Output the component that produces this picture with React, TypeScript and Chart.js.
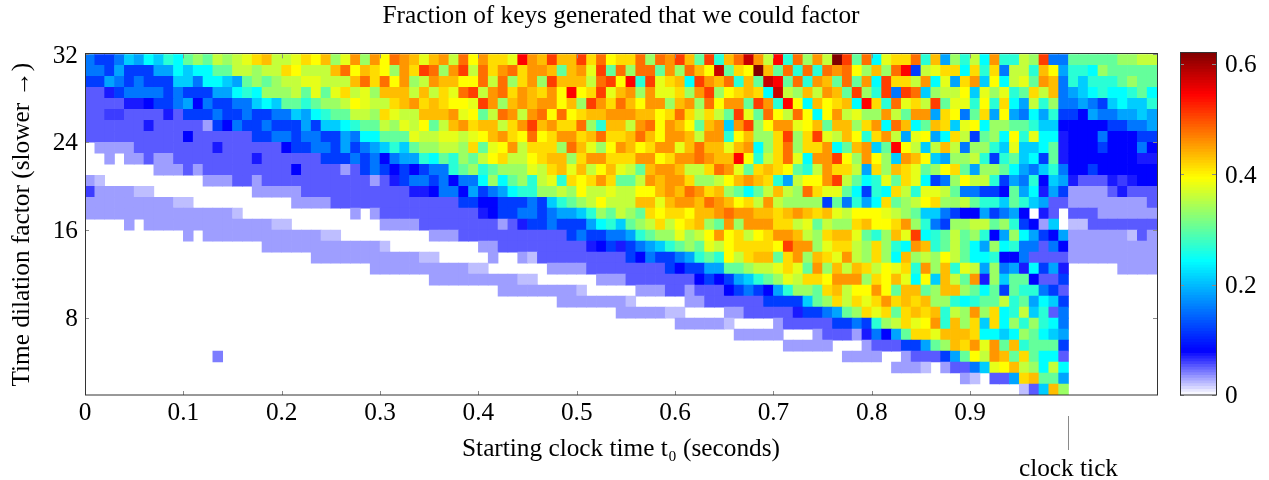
import React, { useEffect, useRef } from "react";
import { Chart, registerables } from "chart.js";

Chart.register(...registerables);

const FONT = "'Liberation Serif', 'Times New Roman', serif";
const FONT_SIZE = 25.3;
const TEXT_COLOR = "#000";
const TITLE = "Fraction of keys generated that we could factor";
const X_TITLE = "Starting clock time t\u2080 (seconds)";
const Y_TITLE = "Time dilation factor (slower \u2192)";
const ANNOTATION = "clock tick";
const CLOCK_TICK = 1.0;

const X_TICKS = [0, 0.1, 0.2, 0.3, 0.4, 0.5, 0.6, 0.7, 0.8, 0.9];
const Y_TICKS = [8, 16, 24, 32];
const BAR_TICKS = [0, 0.2, 0.4, 0.6];
const X_MAX = 1.09;
const BAR_MAX = 0.62;
const CELL_STEP = 0.01;

const LEVEL_KEYS = ".abcdefghijklmnopqrstuvwxyz";
const LEVEL_VALUES = [
  0, 0.02, 0.03, 0.051, 0.06, 0.071, 0.079, 0.117, 0.155, 0.184, 0.21, 0.242, 0.266,
  0.301, 0.334, 0.358, 0.378, 0.393, 0.414, 0.432, 0.455, 0.479, 0.508, 0.544, 0.577, 0.62, 0.04,
];

const COLOR_STOPS: [number, number, number, number][] = [
  [0, 255, 255, 255],
  [0.0786, 0, 0, 255],
  [0.242, 0, 255, 255],
  [0.393, 255, 255, 0],
  [0.544, 255, 0, 0],
  [0.62, 128, 0, 0],
];

const D28 = "............................";
const D27 = "...........................";
const D9 = ".........";

// One string per row, from y = 31..32 at the top to y = 1..2 at the bottom; one letter per 0.01 s.
const ROWS = [
  "hgghjikjlkmnmonoprsooprqsnpt" + "ntqutspstouqtrrpwtsvssvruqrr" + "unutvsmvlsuxtowluntoyvmukpr" + "rulsinloktllonvhh" + "mmmmmnnoo",
  "hhgigggiikjkkmmoonoorqooosuq" + "srqntrvuntvourturttsmstpvmun" + "uumtnusqxmrqysmululutuqnsnu" + "wgoprrkrlrhoolsqi" + "llknmmmmm",
  "ggihghgggjjhkkjimnmnooppooos" + "uruqtnotssqquounrtnvsssouvqw" + "lvprskvtsulsmxwmultsmumtkvr" + "rotkpirtjqkopmtsh" + "ljlllmnmm",
  "cceghhhhghgggiiklknnnompmpro" + "pnsssosorpuvoturtsrtqwqrvpst" + "ntpprntvnqrsrkxonsotsmvnlvh" + "vujnooqjpnplmrosh" + "ijklkklmk",
  "cccceefgghifhgghhjkjmmlmnnoq" + "poorstrsrqqpvtnststtqsnvtrus" + "qttnstnuqttmvtlwqksqrskwrlu" + "provmpplqlrkiolnh" + "hihgjkjjl",
  "ccddccccecggghgghgghhjiklmmo" + "onrpoossstpqmoutotuquqrssttt" + "ssqruroromvpmuqouqkqtopnnto" + "mttirqhmriqihkilg" + "gfihhiiji",
  "ccccccecccccbgfhgghgggigjjkl" + "mmonpoqmostrssortvstrrunlsso" + "tuqtsqmstjtvnqttpqsmssnrtku" + "skmsrjpqknnmmljjf" + "ffffgghhi",
  "ccccccccccfccccccgghhghhggih" + "kkmmmpooppopqstrquqrttrsurrs" + "usqttsottlqsnnrvnrvposqlrto" + "ipqikrogmnkqlpkke" + "fffhfffgg",
  ".bbbbccccccccecccccc" + "fgghhgig" + "hijljmnnoonrmpqtorrrnuspnqts" + "qrttpsusspstknrunrrtkmstjmw" + "qojosohnnljpjjkme" + "fffgfffhf",
  "..b.bbcbbcccccccceccccccgggh" + "ghfhiilkmlnmoqrooqrssnrttrrr" + "ttqrttutsswqlorupkttvqntqnj" + "tsqjinnolglmjkgme" + "fffffffee",
  ".......bbbcbcccccccccfccccbc" + "ghgfgfghhlmnlmnnnporspsoqspo" + "msttsoorutpmrsrqmlotrroirns" + "rpmnqrminnmkihjlh" + "ffgffffff",
  "ba..........bbbccbcccccccccc" + "cbceghhghfhhknkmnloplrqrtrmm" + "otsttrnnoqstsrlioqqtvomklpm" + "rpkghnqoolgihlfji" + "ecccedeff",
  "dbbbbaa..........bbbbbcccccc" + "ccccceefhhfighikllnnonqoopoo" + "qqstsutrsnmkmosonurppmkglkr" + "olppomhhggfmikeig" + "bbbbceccc",
  "bbbbbbbbbaa..........bbbbccc" + "ccccccccccggffggghgjlmnoqooo" + "sspsttsutsqrotonnnngmhlikrm" + "noqrnnomlljmljicc" + "bbbbbbbbc",
  "bbbbbbbbbbbbbbba...........b" + ".bccccccccccefgghhghiijlnmon" + "mrqrrqsstuttssrstsrspoqqqpo" + "nmjjhgffighif.ec." + "cccbbbbbb",
  "....b.bbbbbbbbbbbbbaa......." + "..bbbbccccccccbcegghgggikljm" + "noroqrsnmtntttrropmonnrsqqr" + "tnlhgnnoomnlgfbj." + "aaccccccc",
  "..........b.bbbbbbbbbbbbaa.." + ".......bbbcccccccccccghgghhi" + "lmnnpnoqtqroqrttsonrsspmlns" + "pvklmomnlfinkigfi" + "bbbbbbacb",
  "..................bbbbbbbbbb" + "bba.........bbcccccccccefgeg" + "hijlmnmpoqrrrrqvttnprronrnl" + "ktslmomkinklhhchf" + "bbbbbbbbb",
  ".......................bbbbb" + "bbbbbbaa.....b..bacccccccccg" + "fhgghilmlqorssmrtnsrptonrnk" + "snonqomkklffhcccc" + "bbbbbbbbb",
  D28 + ".bbbbbbbbbbaa......bbbbccccc" + "cccgfggiimmnooprpmtnsosroqp" + "rltnslpoinhiekgie" + ".....bbbb",
  D28 + ".......bbbbbbbbbaa......bbbc" + "ccccccfgfgijlmnporrqtttnrqs" + "pkqjsomtenjmmfccg" + D9,
  D28 + "..............bbbbbbbba....." + "bbbccbcccfghgfilnnmrsoqqtqm" + "ssmnssnmkmgmllhgc" + D9,
  D28 + "....................bbbbbbba" + ".....bbccccccggggjmnrorprtr" + "srsnnlklmmolmikjg" + D9,
  D28 + "..........................bb" + "bbbaa....bbccccceggh" + "imnrprm" + "rsrslontnrklojlch" + D9,
  D28 + D28 + "....bbbbba....bcccccgghglno" + "rpqtlsnrjrknlnlkh" + D9,
  D28 + D28 + "..........bbbbb...bcccbehfi" + "mrrpsssrkkjknmkji" + D9,
  D28 + D28 + "...............bbbbb...bccc" + "ggimnsrtptmslmmmg" + D9,
  ".............z.............." + D28 + ".....................bbbb.." + "bcccgimqotsmrmkkc" + D9,
  D28 + D28 + "..........................b" + "bba.bcchjpqsonkok" + D9,
  D28 + D28 + D27 + "......ba.ccirsmmi" + D9,
  D28 + D28 + D27 + "............acjsn" + D9,
];

function colorFor(v: number): string {
  for (let i = 1; i < COLOR_STOPS.length; i++) {
    const a = COLOR_STOPS[i - 1];
    const b = COLOR_STOPS[i];
    if (v <= b[0]) {
      const t = (v - a[0]) / (b[0] - a[0]);
      const ch = (k: number) => Math.round(a[k] + (b[k] - a[k]) * t);
      return `rgb(${ch(1)},${ch(2)},${ch(3)})`;
    }
  }
  return "rgb(128,0,0)";
}

const cells: { x: number; y: [number, number]; v: number }[] = [];
ROWS.forEach((row, r) => {
  const yLow = 31 - r;
  row.split("").forEach((ch, c) => {
    const v = LEVEL_VALUES[LEVEL_KEYS.indexOf(ch)];
    if (v > 0) cells.push({ x: (c + 0.5) * CELL_STEP, y: [yLow, yLow + 1], v });
  });
});

const BAR_BANDS = Array.from({ length: 124 }, (_, i) => (i * BAR_MAX) / 124);

const TICK_COLOR = "#8a8a8a";
const FRAME_COLOR = "#333333";

function frame(mirror: boolean) {
  return {
    id: "frame",
    afterDatasetsDraw(chart: any) {
      const { ctx, chartArea: a, scales } = chart;
      ctx.save();
      ctx.lineWidth = 1;
      ctx.strokeStyle = TICK_COLOR;
      ctx.beginPath();
      const len = 4;
      Object.values(scales).forEach((s: any) => {
        if (!s.options.display) return;
        s.ticks.forEach((t: any) => {
          const p = Math.round(s.getPixelForValue(t.value)) + 0.5;
          if (s.axis === "x") {
            ctx.moveTo(p, a.top);
            ctx.lineTo(p, a.top + len);
            ctx.moveTo(p, a.bottom);
            ctx.lineTo(p, a.bottom - len);
          } else {
            ctx.moveTo(a.left, p);
            ctx.lineTo(a.left + len, p);
            ctx.moveTo(a.right, p);
            ctx.lineTo(a.right - len, p);
          }
        });
      });
      ctx.stroke();
      ctx.strokeStyle = FRAME_COLOR;
      ctx.strokeRect(Math.round(a.left) + 0.5, Math.round(a.top) - 0.5, Math.round(a.width), Math.round(a.height) + 0.5);
      if (mirror) {
        const px = scales.x.getPixelForValue(CLOCK_TICK);
        ctx.strokeStyle = TICK_COLOR;
        ctx.beginPath();
        ctx.moveTo(Math.round(px) + 0.5, 416);
        ctx.lineTo(Math.round(px) + 0.5, 450);
        ctx.stroke();
        ctx.fillStyle = TEXT_COLOR;
        ctx.font = `${FONT_SIZE}px ${FONT}`;
        ctx.textAlign = "center";
        ctx.textBaseline = "middle";
        ctx.fillText(ANNOTATION, px, 469);
      }
      ctx.restore();
    },
  };
}

// A tiny line height with an empty first line moves the tick text 1.5px below its tick.
const lowered = (s: string) => ["", s];
const tickFont = { family: FONT, size: FONT_SIZE, lineHeight: 0.12 };

export default function App() {
  const mainRef = useRef<HTMLCanvasElement>(null);
  const barRef = useRef<HTMLCanvasElement>(null);

  useEffect(() => {
    const main = new Chart(mainRef.current as HTMLCanvasElement, {
      type: "bar",
      data: {
        datasets: [
          {
            label: "Fraction factored",
            data: cells as any,
            backgroundColor: cells.map((c) => colorFor(c.v)),
            barPercentage: 1,
            categoryPercentage: 1,
            borderWidth: 0,
          },
        ],
      },
      options: {
        responsive: false,
        animation: false,
        events: [],
        layout: { padding: { left: 0, top: 0, right: 112, bottom: 0 } },
        plugins: {
          legend: { display: false },
          tooltip: { enabled: false },
          title: {
            display: true,
            text: TITLE,
            fullSize: false,
            color: TEXT_COLOR,
            font: { family: FONT, size: FONT_SIZE, weight: "normal" },
            padding: { top: 1, bottom: 23 },
          } as any,
        },
        scales: {
          x: {
            type: "linear",
            offset: false,
            min: 0,
            max: X_MAX,
            grid: { display: false, drawTicks: false },
            border: { display: false },
            afterBuildTicks: (s: any) => {
              s.ticks = X_TICKS.map((value) => ({ value }));
            },
            afterFit: (s: any) => {
              s.height = 85;
            },
            ticks: {
              autoSkip: false,
              maxRotation: 0,
              padding: 3,
              color: TEXT_COLOR,
              font: { family: FONT, size: FONT_SIZE },
              callback: (v: any) => (v === 0 ? "0" : Number(v).toFixed(1)),
            },
            title: {
              display: true,
              text: X_TITLE,
              color: TEXT_COLOR,
              font: { family: FONT, size: FONT_SIZE },
              padding: { top: 5, bottom: 15 },
            },
          },
          y: {
            type: "linear",
            min: 1,
            max: 32,
            grid: { display: false, drawTicks: false },
            border: { display: false },
            afterBuildTicks: (s: any) => {
              s.ticks = Y_TICKS.map((value) => ({ value }));
            },
            afterFit: (s: any) => {
              s.width = 85;
            },
            ticks: {
              autoSkip: false,
              padding: 7,
              color: TEXT_COLOR,
              font: tickFont,
              callback: (v: any) => lowered(String(v)),
            },
            title: {
              display: true,
              text: Y_TITLE,
              color: TEXT_COLOR,
              font: { family: FONT, size: FONT_SIZE },
              padding: { top: 7, bottom: 0 },
            },
          },
        },
      },
      plugins: [frame(true) as any],
    });

    const bar = new Chart(barRef.current as HTMLCanvasElement, {
      type: "bar",
      data: {
        labels: [""],
        datasets: BAR_BANDS.map((v) => ({
          label: String(v),
          data: [[v, v + BAR_MAX / 124 + 0.0005]] as any,
          backgroundColor: colorFor(v + BAR_MAX / 248),
          barPercentage: 1,
          categoryPercentage: 1,
          grouped: false,
          borderWidth: 0,
        })),
      },
      options: {
        responsive: false,
        animation: false,
        events: [],
        layout: { padding: { left: 10, top: 53, right: 0, bottom: 85 } },
        plugins: { legend: { display: false }, tooltip: { enabled: false } },
        scales: {
          x: { display: false },
          y: {
            type: "linear",
            position: "right",
            min: 0,
            max: BAR_MAX,
            grid: { display: false, drawTicks: false },
            border: { display: false },
            afterBuildTicks: (s: any) => {
              s.ticks = BAR_TICKS.map((value) => ({ value }));
            },
            afterFit: (s: any) => {
              s.width = 53;
            },
            ticks: {
              padding: 9,
              color: TEXT_COLOR,
              font: tickFont,
              callback: (v: any) => lowered(v === 0 ? "0" : Number(v).toFixed(1)),
            },
          },
        },
      },
      plugins: [frame(false) as any],
    });

    return () => {
      main.destroy();
      bar.destroy();
    };
  }, []);

  return (
    <div style={{ position: "absolute", left: 0, top: 0, width: 1269, height: 480, overflow: "hidden", background: "#fff" }}>
      <canvas ref={mainRef} width={1269} height={480} style={{ position: "absolute", left: 0, top: 0 }} />
      <canvas ref={barRef} width={99} height={480} style={{ position: "absolute", left: 1170, top: 0 }} />
    </div>
  );
}
